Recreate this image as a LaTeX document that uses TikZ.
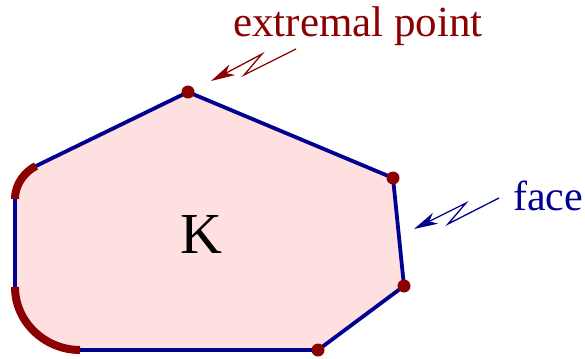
\documentclass[tikz,border=0pt]{standalone}
\usepackage{fontspec}
\setmainfont{Liberation Serif}
\usetikzlibrary{arrows.meta}
\definecolor{kfill}{RGB}{255,224,224}
\definecolor{kblue}{RGB}{0,0,145}
\definecolor{kred}{RGB}{139,0,0}
\tikzset{
  edge/.style={draw=kblue, line width=3.8pt, line join=round},
  corner/.style={draw=kred, line width=8pt, line cap=butt},
  dot/.style={circle, fill=kred, inner sep=0pt, minimum size=13pt},
  zig/.style={line width=1.3pt, line join=miter, -{Stealth[length=24pt,width=12pt,inset=7pt]}},
  lab/.style={inner sep=0pt, anchor=base west},
}
\begin{document}
\begin{tikzpicture}[x=1pt,y=-1pt]
\useasboundingbox (0,0) rectangle (585,358);
% vertices
\coordinate (A) at (188,92);
\coordinate (B) at (393,178);
\coordinate (C) at (404,286);
\coordinate (D) at (318,350);
\coordinate (tl1) at (36,166);
\coordinate (tl2) at (15,199);
\coordinate (bl1) at (15,287);
\coordinate (bl2) at (80,350);
% region
\fill[kfill] (tl1) -- (A) -- (B) -- (C) -- (D) -- (bl2)
  .. controls (45,350) and (15,322) .. (bl1) -- (tl2)
  .. controls (15,183) and (26,171) .. (tl1) -- cycle;
\draw[edge] (tl1) -- (A) -- (B) -- (C) -- (D) -- (bl2)
  .. controls (45,350) and (15,322) .. (bl1) -- (tl2)
  .. controls (15,183) and (26,171) .. (tl1) -- cycle;
% rounded corners
\draw[corner] (tl2) .. controls (15,183) and (26,171) .. (tl1);
\draw[corner] (bl1) .. controls (15,322) and (45,350) .. (bl2);
% extremal points
\node[dot] (pA) at (A) {};
\node[dot] (pB) at (B) {};
\node[dot] (pC) at (C) {};
\node[dot] (pD) at (D) {};
% label K
\node[lab] (K) at (180,253) {\fontsize{58}{64}\selectfont K};
% extremal point label and arrow
\node[lab, text=kred] (ext) at (233,37) {\fontsize{43}{50}\selectfont extremal point};
\coordinate (e0) at (296,49);
\coordinate (e1) at (244,75);
\coordinate (e2) at (262,54);
\coordinate (e3) at (211,81);
\draw[zig, kred] (e0) -- (e1) -- (e2) -- (e3);
% face label and arrow
\node[lab, text=kblue] (face) at (513,210) {\fontsize{42}{50}\selectfont face};
\coordinate (f0) at (499,198);
\coordinate (f1) at (448,224);
\coordinate (f2) at (466,203);
\coordinate (f3) at (414,229);
\draw[zig, kblue] (f0) -- (f1) -- (f2) -- (f3);
\end{tikzpicture}
\end{document}
